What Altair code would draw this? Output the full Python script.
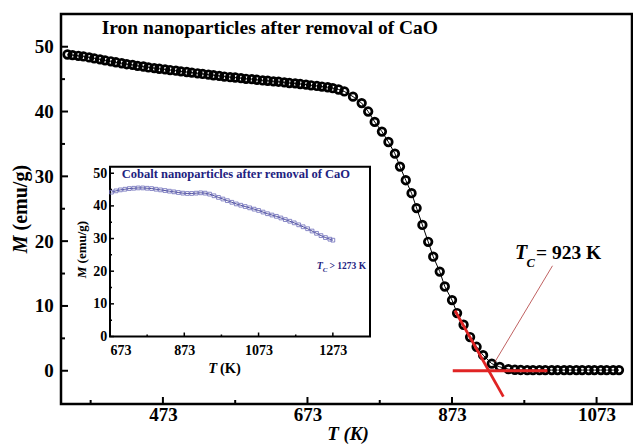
import altair as alt
import pandas as pd

# ---------------- data ----------------
# main curve: iron nanoparticles, T (K) and M (emu/g)
T_main = [341, 348, 356, 363, 371, 378, 386, 393, 401, 408, 416, 423, 431, 438, 446, 453,
          461, 468, 476, 483, 491, 498, 506, 513, 521, 528, 536, 543, 551, 558, 566, 573,
          581, 588, 596, 603, 611, 618, 626, 633, 641, 648, 656, 663, 671, 678, 686, 693,
          701, 708, 716, 724, 736, 748, 757, 766, 776, 785, 794, 801, 809, 817, 824, 832,
          840, 847, 856, 863, 873, 880, 889, 898, 907, 916, 928, 939, 951, 960, 968, 977,
          985, 994, 1002, 1011, 1019, 1028, 1036, 1045, 1053, 1062, 1070, 1079, 1087, 1096, 1104]
M_main = [48.8, 48.7, 48.6, 48.5, 48.35, 48.2, 48.05, 47.9, 47.75, 47.6, 47.45, 47.3, 47.2, 47.05,
          46.95, 46.8, 46.7, 46.6, 46.5, 46.4, 46.3, 46.2, 46.1, 46.0, 45.9, 45.8, 45.7, 45.6,
          45.5, 45.4, 45.3, 45.25, 45.15, 45.05, 45.0, 44.9, 44.8, 44.75, 44.65, 44.6, 44.5,
          44.4, 44.35, 44.25, 44.15, 44.05, 43.95, 43.85, 43.75, 43.6, 43.4, 43.1, 42.3, 41.3,
          40.0, 38.4, 36.9, 35.3, 33.5, 31.5, 29.4, 27.4, 25.1, 22.5, 19.9, 17.6, 15.3, 13.0,
          10.9, 8.9, 7.1, 5.2, 3.7, 2.4, 1.1, 0.6, 0.25, 0.15, 0.12, 0.1, 0.1, 0.1, 0.1, 0.1,
          0.1, 0.1, 0.1, 0.1, 0.1, 0.1, 0.1, 0.1, 0.1, 0.1, 0.1]

# inset curve: cobalt nanoparticles
T_inset = [677, 689, 701, 713, 725, 737, 749, 761, 773, 785, 797, 809, 821, 833, 845, 857, 869,
           881, 893, 905, 917, 929, 941, 953, 965, 977, 989, 1001, 1013, 1025, 1037, 1049, 1061,
           1073, 1085, 1097, 1109, 1121, 1133, 1145, 1157, 1169, 1181, 1193, 1205, 1217, 1229,
           1241, 1253, 1265, 1273]
M_inset = [44.2, 44.6, 44.9, 45.1, 45.3, 45.4, 45.5, 45.5, 45.4, 45.3, 45.1, 44.9, 44.7, 44.5,
           44.3, 44.1, 43.9, 43.8, 43.8, 43.9, 44.0, 43.9, 43.6, 43.1, 42.6, 42.1, 41.6, 41.1,
           40.6, 40.2, 39.8, 39.4, 39.0, 38.6, 38.1, 37.6, 37.2, 36.8, 36.3, 35.8, 35.3, 34.8,
           34.2, 33.6, 33.0, 32.3, 31.6, 30.9, 30.3, 29.8, 29.5]

# tangent construction for Tc (red lines) and pointer line
tan_T, tan_M = [877, 944], [9.3, -4.0]
base_T, base_M = [874, 1005], [0.0, 0.0]
ptr_T, ptr_M = [932, 1012], [1.3, 16.2]

# axis ticks
x_main_major = [473, 673, 873, 1073]
x_main_minor = [373, 573, 773, 973]
y_main_major = [0, 10, 20, 30, 40, 50]
y_main_minor = [5, 15, 25, 35, 45]
x_inset_major = [673, 873, 1073, 1273]
x_inset_minor = [773, 973, 1173]
y_inset_major = [0, 10, 20, 30, 40, 50]
y_inset_minor = [5, 15, 25, 35, 45]
x_main_domain = [332, 1122]
y_main_domain = [-5.13, 55.05]
x_inset_domain = [673, 1373]
y_inset_domain = [0, 52]

# ---------------- layout ----------------
W, H = 571, 390
SERIF = "Liberation Serif"
NAVY = "#22227f"
RED = "#e02424"

xs = alt.Scale(domain=x_main_domain, nice=False, zero=False)
ys = alt.Scale(domain=y_main_domain, nice=False, zero=False)
xi = alt.Scale(domain=x_inset_domain, range=[49, 309], nice=False, zero=False)
yi = alt.Scale(domain=y_inset_domain, range=[322.5, 152.7], nice=False, zero=False)

common_axis = dict(ticks=False, tickSize=0, domain=False, grid=False, title=None,
                   labelFont=SERIF, labelFontWeight="bold", labelColor="black", format="d")
ax_mx = alt.Axis(values=x_main_major, labelFontSize=19, labelPadding=1.7, orient="bottom", **common_axis)
ax_my = alt.Axis(values=y_main_major, labelFontSize=19, labelPadding=7.7, orient="left", **common_axis)
ax_ix = alt.Axis(values=x_inset_major, labelFontSize=14, labelPadding=7.4, orient="bottom",
                 offset=-(H - 322.5), **common_axis)
ax_iy = alt.Axis(values=y_inset_major, labelFontSize=14, labelPadding=3.3, orient="left",
                 offset=-49, **common_axis)

def MX(f="T"):
    return alt.X(f"{f}:Q", scale=xs, axis=ax_mx)

def MY(f="M"):
    return alt.Y(f"{f}:Q", scale=ys, axis=ax_my)

def IX(f="T"):
    return alt.X(f"{f}:Q", scale=xi, axis=ax_ix)

def IY(f="M"):
    return alt.Y(f"{f}:Q", scale=yi, axis=ax_iy)

df_main = pd.DataFrame({"T": T_main, "M": M_main})
df_inset = pd.DataFrame({"T": T_inset, "M": M_inset})

# ---- main layer ----
main_line = alt.Chart(df_main).mark_line(color="black", strokeWidth=1).encode(x=MX(), y=MY())
main_pts = alt.Chart(df_main).mark_point(shape="circle", filled=False, size=58, strokeWidth=2.7,
                                         color="black", opacity=1).encode(x=MX(), y=MY())
red_tan = alt.Chart(pd.DataFrame({"T": tan_T, "M": tan_M})).mark_line(
    color=RED, strokeWidth=2.8).encode(x=MX(), y=MY())
red_base = alt.Chart(pd.DataFrame({"T": base_T, "M": base_M})).mark_line(
    color=RED, strokeWidth=2.8).encode(x=MX(), y=MY())
ptr = alt.Chart(pd.DataFrame({"T": ptr_T, "M": ptr_M})).mark_line(
    color="#b03a3a", strokeWidth=0.8).encode(x=MX(), y=MY())

mx_major = alt.Chart(pd.DataFrame({"T": x_main_major})).mark_rule(color="black", strokeWidth=2).encode(
    x=MX(), y=alt.value(H), y2=alt.value(H - 7))
mx_minor = alt.Chart(pd.DataFrame({"T": x_main_minor})).mark_rule(color="black", strokeWidth=2).encode(
    x=MX(), y=alt.value(H), y2=alt.value(H - 4))
my_major = alt.Chart(pd.DataFrame({"M": y_main_major})).mark_rule(color="black", strokeWidth=2).encode(
    y=MY(), x=alt.value(0), x2=alt.value(7))
my_minor = alt.Chart(pd.DataFrame({"M": y_main_minor})).mark_rule(color="black", strokeWidth=2).encode(
    y=MY(), x=alt.value(0), x2=alt.value(4))

def txt(s, x, y, size, color="black", style="normal", weight="bold", angle=0, align="left"):
    kw = dict(font=SERIF, fontSize=size, fontWeight=weight, fontStyle=style, color=color,
              align=align, baseline="alphabetic")
    if angle:
        kw["angle"] = angle
    return alt.Chart(pd.DataFrame({"s": [s]})).mark_text(**kw).encode(
        text="s:N", x=alt.value(x), y=alt.value(y))

main_texts = [
    txt("Iron nanoparticles after removal of CaO", 40.7, 20.3, 19.5),
    txt("T", 454, 245.3, 20, style="italic"),
    txt("C", 465.5, 252.7, 12.5, style="italic"),
    txt("= 923 K", 475, 245.3, 19.5),
    txt("M", -34, 239.3, 20, style="italic", angle=270),
    txt("(emu/g)", -34, 216.5, 20, angle=270),
    txt("T (K)", 287, 426, 19, style="italic", align="center"),
]
inset_texts = [
    txt("Cobalt nanoparticles after removal of CaO", 60.7, 164.3, 12.5, color=NAVY),
    txt("T", 255.7, 255, 10, color=NAVY, style="italic"),
    txt("C", 261.8, 257.5, 7, color=NAVY, style="italic"),
    txt("> 1273 K", 268.5, 255, 9.5, color=NAVY),
    txt("M", 25, 264.3, 13, style="italic", angle=270),
    txt("(emu/g)", 25, 249.4, 13, angle=270),
    txt("T", 147.3, 359.3, 14.5, style="italic"),
    txt("(K)", 159, 359.3, 14.5),
]

main_group = alt.layer(mx_major, mx_minor, my_major, my_minor, main_line,
                       main_pts, red_base, red_tan, ptr, *main_texts)

# ---- inset layer ----
frame = alt.Chart(pd.DataFrame({"T": [x_inset_domain[0]], "T2": [x_inset_domain[1]],
                                "M": [y_inset_domain[0]], "M2": [y_inset_domain[1]]})).mark_rect(
    fill="white", stroke="black", strokeWidth=2).encode(
    x=IX(), x2="T2:Q", y=IY(), y2="M2:Q")
in_line = alt.Chart(df_inset).mark_line(color=NAVY, strokeWidth=0.8).encode(x=IX(), y=IY())
in_pts = alt.Chart(df_inset).mark_point(shape="square", filled=False, size=14, strokeWidth=0.8,
                                        color="#6a6ab8", opacity=1).encode(x=IX(), y=IY())
ix_major = alt.Chart(pd.DataFrame({"T": x_inset_major})).mark_rule(color="black", strokeWidth=1.5).encode(
    x=IX(), y=alt.value(322.5), y2=alt.value(318.5))
ix_minor = alt.Chart(pd.DataFrame({"T": x_inset_minor})).mark_rule(color="black", strokeWidth=1.5).encode(
    x=IX(), y=alt.value(322.5), y2=alt.value(320.5))
iy_major = alt.Chart(pd.DataFrame({"M": y_inset_major})).mark_rule(color="black", strokeWidth=1.5).encode(
    y=IY(), x=alt.value(49), x2=alt.value(53))
iy_minor = alt.Chart(pd.DataFrame({"M": y_inset_minor})).mark_rule(color="black", strokeWidth=1.5).encode(
    y=IY(), x=alt.value(49), x2=alt.value(51))

inset_group = alt.layer(frame, ix_major, ix_minor, iy_major, iy_minor, in_line, in_pts, *inset_texts)

chart = alt.layer(main_group, inset_group).resolve_scale(
    x="independent", y="independent").properties(
    width=W, height=H, autosize="none",
    padding={"left": 61, "top": 14, "right": 1, "bottom": 40},
    background="white",
).configure_view(stroke="black", strokeWidth=2.5)

chart.save("out.html", embed_options={"renderer": "svg", "actions": False})
